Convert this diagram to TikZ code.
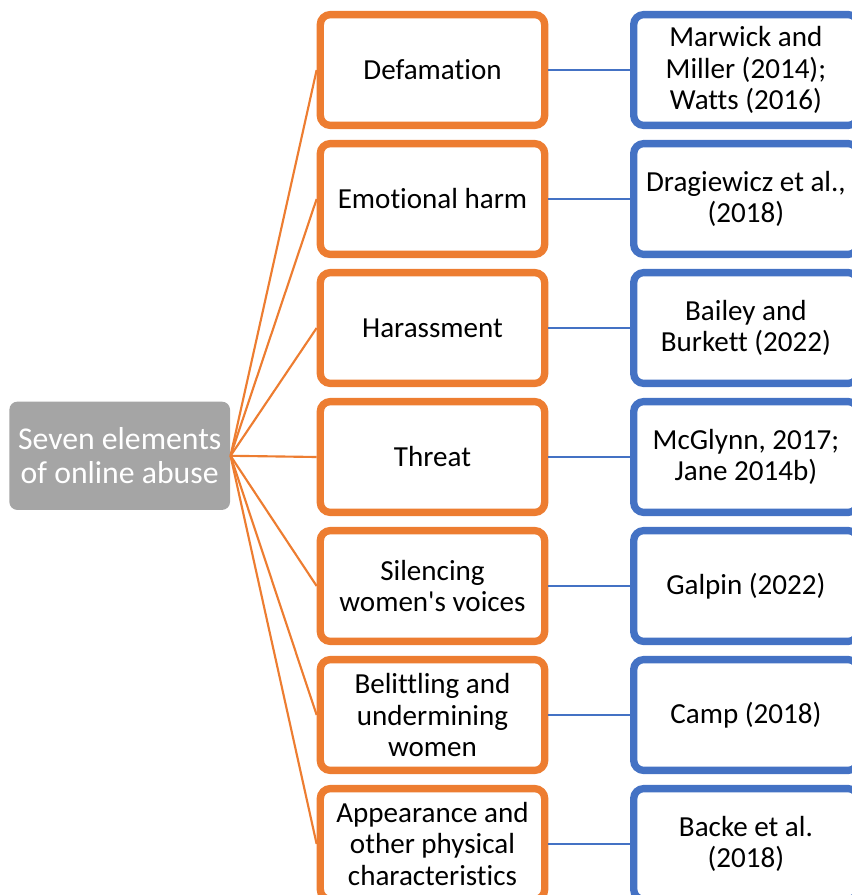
\documentclass[tikz,border=0pt]{standalone}
\usepackage{fontspec}
\setmainfont{Carlito}[Ligatures={TeXOff,NoCommon}]
\definecolor{abuseorange}{RGB}{237,125,49}
\definecolor{abuseblue}{RGB}{68,114,196}
\definecolor{abusegray}{RGB}{165,165,165}
\tikzset{every picture/.style={line width=0.75pt}}
\tikzset{
rootbox/.style={fill=abusegray, text=white, rounded corners=6pt, minimum width=165.5pt, minimum height=81.2pt, align=center, inner sep=0.75pt, font=\fontsize{23.8}{25.5}\selectfont},
elembox/.style={draw=abuseorange, fill=white, line width=5.5pt, rounded corners=7.5pt, minimum width=168.3pt, minimum height=83.1pt, align=center, inner sep=0.75pt, font=\fontsize{21.8}{23.6}\selectfont},
refbox/.style={draw=abuseblue, fill=white, line width=5.5pt, rounded corners=7.5pt, minimum width=168.3pt, minimum height=83.1pt, align=center, inner sep=0.75pt, font=\fontsize{21.8}{23.6}\selectfont},
elemline/.style={draw=abuseorange, line width=1.6pt},
refline/.style={draw=abuseblue, line width=1.7pt}}

\begin{document}
\begin{tikzpicture}[x=0.75pt,y=0.75pt,yscale=-1,xscale=1]
\useasboundingbox (0,0) rectangle (851,895); %set diagram to the size of the reference

%Rounded Rect [id:root]
\node [rootbox] (root) at (119.7,455.8) {Seven elements\\of online abuse};

%Rounded Rect [id:elements]
\node [elembox] (defam) at (432.5,70) {Defamation};
\node [elembox] (emoharm) at (432.5,199) {Emotional harm};
\node [elembox] (harass) at (432.5,328) {Harassment};
\node [elembox] (threat) at (432.5,457) {Threat};
\node [elembox] (silenc) at (432.5,586) {Silencing\\women's voices};
\node [elembox] (belit) at (432.5,715) {Belittling and\\undermining\\women};
\node [elembox] (appear) at (432.5,844) {Appearance and\\other physical\\characteristics};

%Rounded Rect [id:references]
\node [refbox] (defamref) at (745.9,70) {Marwick and\\Miller (2014);\\Watts (2016)};
\node [refbox] (emoharmref) at (745.9,199) {Dragiewicz et al.,\\(2018)};
\node [refbox] (harassref) at (745.9,328) {Bailey and\\Burkett (2022)};
\node [refbox] (threatref) at (745.9,457) {McGlynn, 2017;\\Jane 2014b)};
\node [refbox] (silencref) at (745.9,586) {Galpin (2022)};
\node [refbox] (belitref) at (745.9,715) {Camp (2018)};
\node [refbox] (appearref) at (745.9,844) {Backe et al.\\(2018)};

%Straight Lines [id:root to elements]
\draw [elemline] (root.east) -- (defam.west);
\draw [elemline] (root.east) -- (emoharm.west);
\draw [elemline] (root.east) -- (harass.west);
\draw [elemline] (root.east) -- (threat.west);
\draw [elemline] (root.east) -- (silenc.west);
\draw [elemline] (root.east) -- (belit.west);
\draw [elemline] (root.east) -- (appear.west);

%Straight Lines [id:elements to references]
\draw [refline] (defam.east) -- (defamref.west);
\draw [refline] (emoharm.east) -- (emoharmref.west);
\draw [refline] (harass.east) -- (harassref.west);
\draw [refline] (threat.east) -- (threatref.west);
\draw [refline] (silenc.east) -- (silencref.west);
\draw [refline] (belit.east) -- (belitref.west);
\draw [refline] (appear.east) -- (appearref.west);

\end{tikzpicture}
\end{document}
